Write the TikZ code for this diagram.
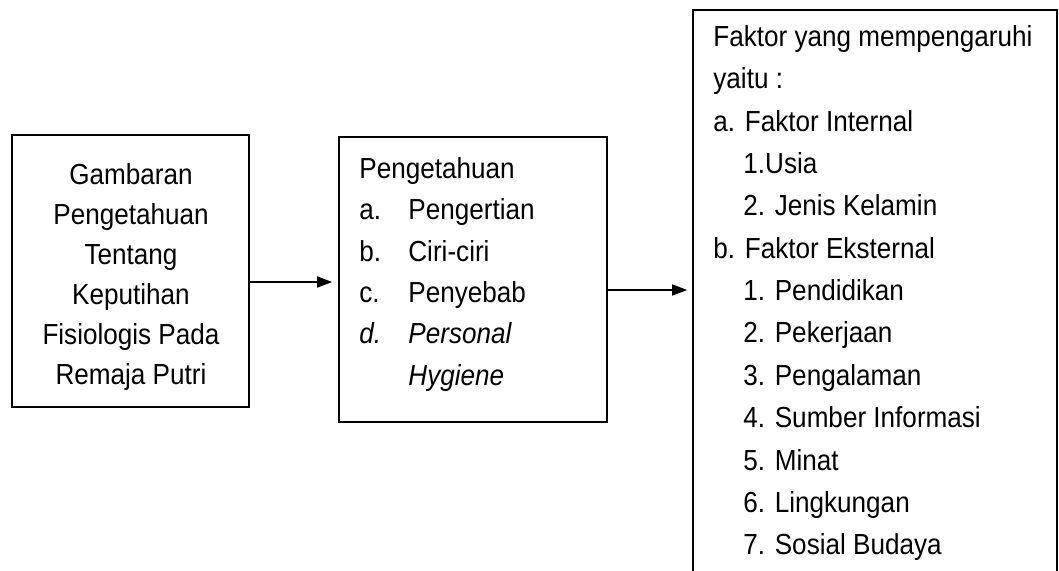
\documentclass[tikz,border=0pt]{standalone}
\usepackage{fontspec}
\setmainfont[FakeStretch=0.9]{Liberation Sans}
\usetikzlibrary{arrows.meta}
\tikzset{
  box/.style={draw, line width=0.8pt, rectangle, inner sep=0pt},
  txt/.style={anchor=base west, inner sep=0pt, font=\fontsize{14.5pt}{17pt}\selectfont},
  ctxt/.style={anchor=base, inner sep=0pt, font=\fontsize{14.5pt}{17pt}\selectfont},
  arr/.style={line width=0.8pt, -{Triangle[length=7.5pt,width=5.5pt]}}
}
\begin{document}
\begin{tikzpicture}[x=0.5pt,y=-0.5pt]
\clip (0,0) rectangle (1059,570);
\fill[white] (0,0) rectangle (1059,570);
% boxes
\node[box, minimum width=118.5pt, minimum height=136pt] (b1) at (130.5,271) {};
\node[box, minimum width=134pt, minimum height=142.5pt] (b2) at (473,279.5) {};
\node[box, minimum width=182pt, minimum height=290pt] (b3) at (875,300) {};
% box 1 text
\foreach \t [count=\i from 0] in {Gambaran,Pengetahuan,Tentang,Keputihan,Fisiologis Pada,Remaja Putri}
  \node[ctxt] (t1-\i) at (131,{184+40*\i}) {\t};
% box 2 text
\node[txt] (t2-0) at (359,178.5) {Pengetahuan};
\foreach \l/\t [count=\i] in {a./Pengertian,b./Ciri-ciri,c./Penyebab}
  \node[txt] (t2-\i) at (359,{178.5+41.3*\i}) {\makebox[24.5pt][l]{\l}\t};
\node[txt] (t2-4) at (359,{178.5+41.3*4}) {\itshape\makebox[24.5pt][l]{d.}Personal};
\node[txt] (t2-5) at (408,{178.5+41.3*5}) {\itshape Hygiene};
% box 3 text
\foreach \x/\t [count=\i from 0] in {713/Faktor yang mempengaruhi,713/yaitu :,713/a. Faktor Internal,743/1.Usia,743/2. Jenis Kelamin,713/b. Faktor Eksternal,743/1. Pendidikan,743/2. Pekerjaan,743/3. Pengalaman,743/4. Sumber Informasi,743/5. Minat,743/6. Lingkungan,743/7. Sosial Budaya}
  \node[txt] (t3-\i) at (\x,{46.5+42.35*\i}) {\t};
% arrows
\coordinate (y1) at (0,282);
\coordinate (y2) at (0,290);
\draw[arr, shorten >=3pt] (b1.east |- y1) -- (b2.west |- y1);
\draw[arr, shorten >=2.5pt] (b2.east |- y2) -- (b3.west |- y2);
\end{tikzpicture}
\end{document}
